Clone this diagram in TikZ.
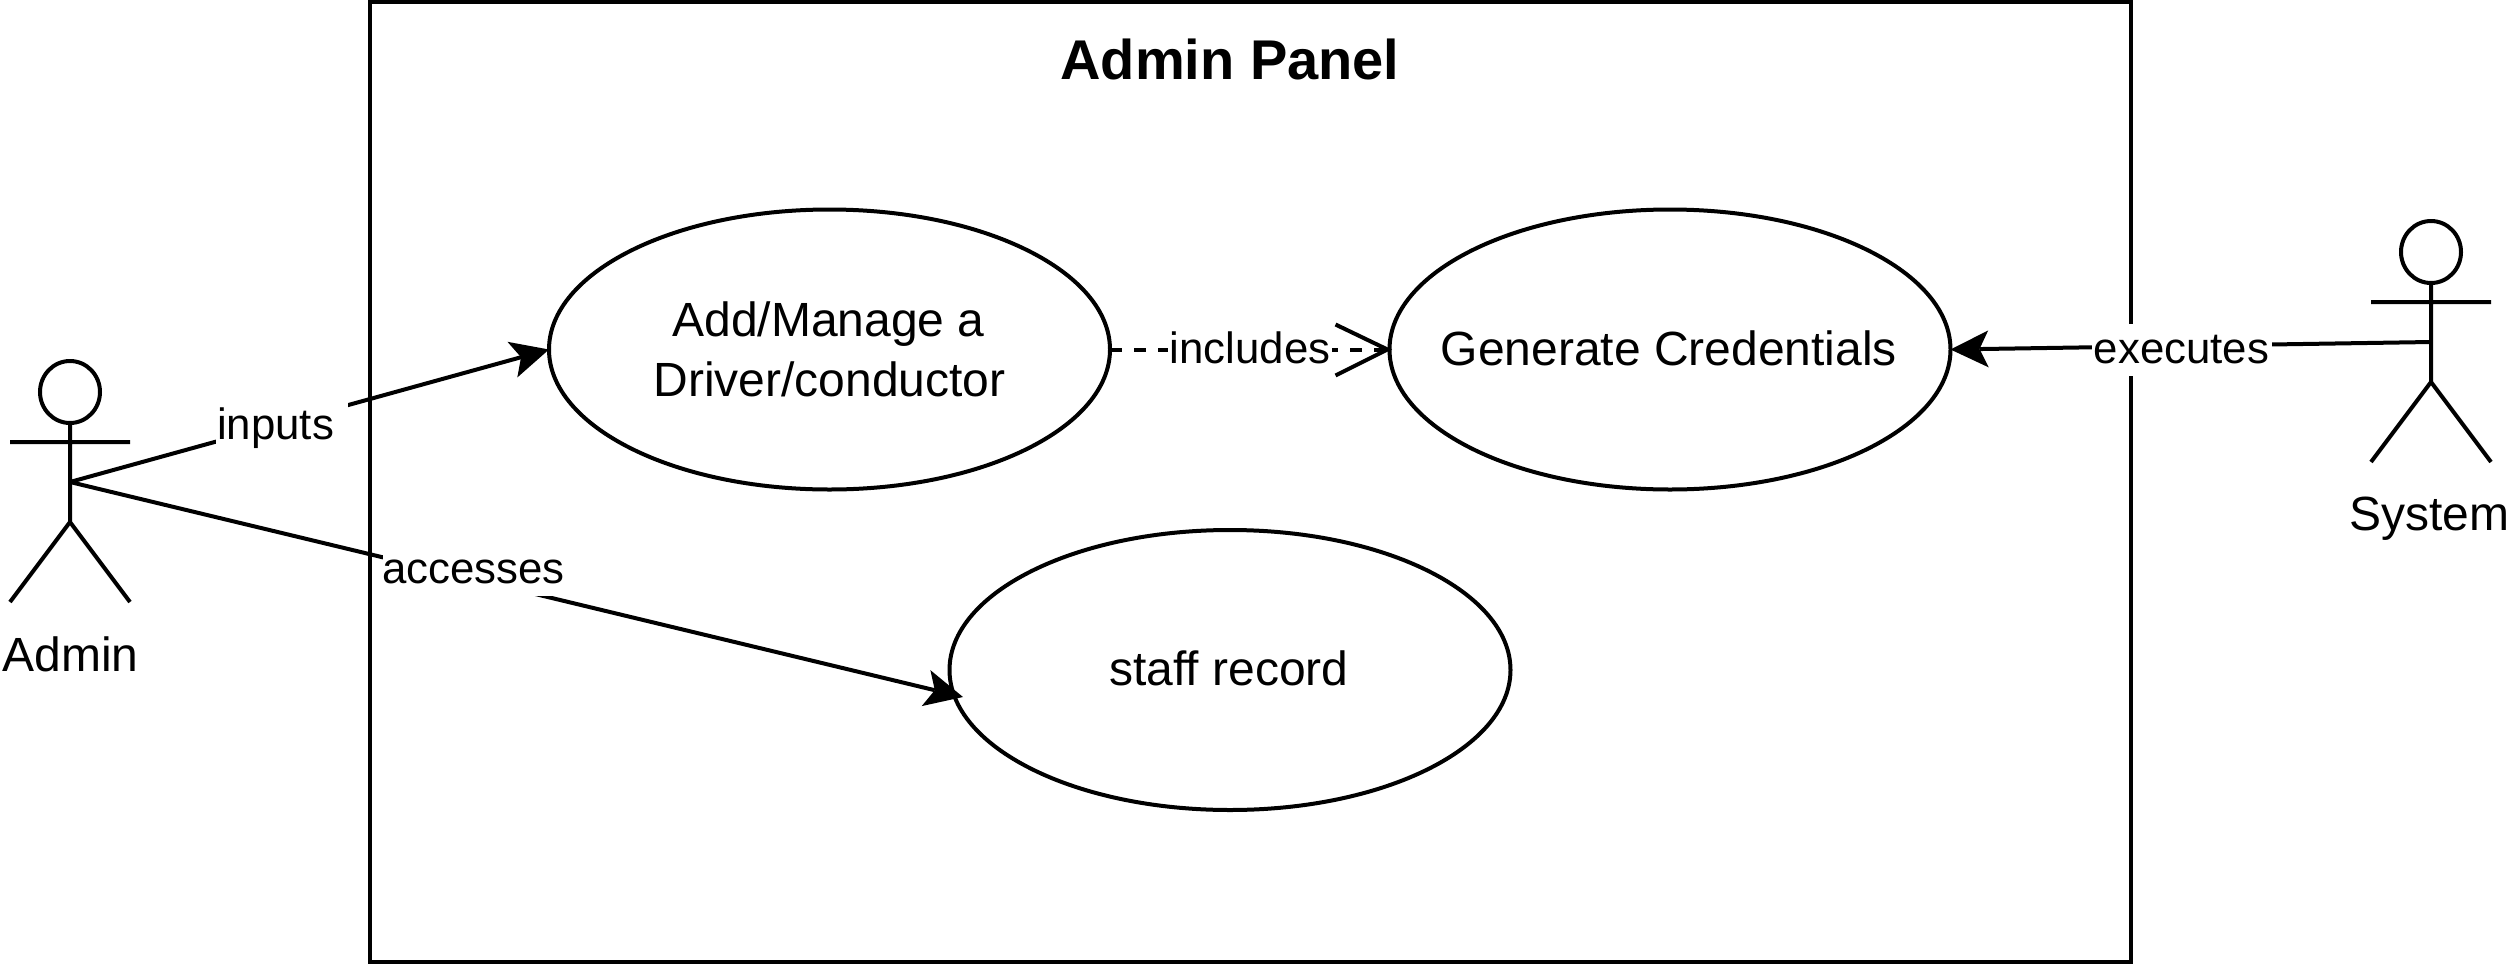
\documentclass[tikz,border=0pt]{standalone}
\usepackage{fontspec}
\setmainfont{Liberation Sans}
\usetikzlibrary{arrows.meta,shapes.geometric}
\tikzset{
  x=0.5pt,y=-0.5pt,
  ink/.style={line width=2pt,draw=black,line cap=butt,line join=miter},
  usecase/.style={ellipse,ink,minimum width=280.5pt,minimum height=140pt,inner xsep=-70pt,inner ysep=0pt,outer sep=0pt,align=center,font=\fontsize{24}{28.8}\selectfont},
  actorname/.style={anchor=base,inner sep=0pt,font=\fontsize{24}{28.8}\selectfont},
  edgetext/.style={anchor=base,inner sep=0pt,font=\fontsize{21.9}{26}\selectfont},
  gap/.style={fill=white,draw=none},
  flow/.style={ink,-{Stealth[length=19pt,width=18.5pt,inset=4.5pt,line width=0pt]}},
  dep/.style={ink,dash pattern=on 6pt off 6pt},
}
\begin{document}
\begin{tikzpicture}
\useasboundingbox (0,0) rectangle (2508,964);
\fill[white] (0,0) rectangle (2508,964);
% system boundary
\draw[ink] (370,1.5) rectangle (2131,962);
\node[anchor=base,inner sep=0pt,font=\fontsize{28}{33}\selectfont\bfseries] (title) at (1230,79.5) {Admin Panel};
% use cases
\node[usecase] (add) at (829.5,349.5) {\hspace*{-1pt}\raisebox{1pt}{Add/Manage a}\\Driver/conductor};
\node[usecase] (gen) at (1670,349.5) {\hspace*{-1.2pt}\raisebox{1.4pt}{Generate Credentials}};
\node[usecase] (staff) at (1230,670) {\hspace*{-1.2pt}\raisebox{2pt}{staff record}};
% admin actor
\coordinate (adminhub) at (70,482);
\draw[ink] (70,392) ellipse (30 and 31);
\draw[ink] (70,423) -- (70,522) (10,442) -- (130,442) (10,602) -- (70,522) -- (130,602);
\node[actorname] (adminname) at (70.5,671) {Admin};
% system actor
\coordinate (syshub) at (2431,342);
\draw[ink] (2431,252) ellipse (30 and 31);
\draw[ink] (2431,283) -- (2431,382) (2371,302) -- (2491,302) (2371,462) -- (2431,382) -- (2491,462);
\node[actorname] (sysname) at (2429.5,530) {System};
% connectors
\coordinate (stafftip) at (963,697);
\coordinate (depend) at ([xshift=-1pt]gen.west);
\draw[flow] (adminhub) -- (add.west);
\draw[flow] (adminhub) -- (stafftip);
\draw[flow] (syshub) -- (gen.east);
\draw[dep] (add.east) -- (depend);
\draw[ink] ([shift={(-52,-25)}]depend) -- (depend) -- ([shift={(-52,26)}]depend);
% connector labels
\fill[gap] (216,400) rectangle (348,452);
\fill[gap] (383,544) rectangle (565,596);
\fill[gap] (1168,324) rectangle (1332,376);
\fill[gap] (2092,324) rectangle (2272,376);
\node[edgetext] (inputs) at (275.5,439) {inputs};
\node[edgetext] (accesses) at (473.5,583) {accesses};
\node[edgetext] (includes) at (1250,363) {includes};
\node[edgetext] (executes) at (2181.5,363) {executes};
\end{tikzpicture}
\end{document}
